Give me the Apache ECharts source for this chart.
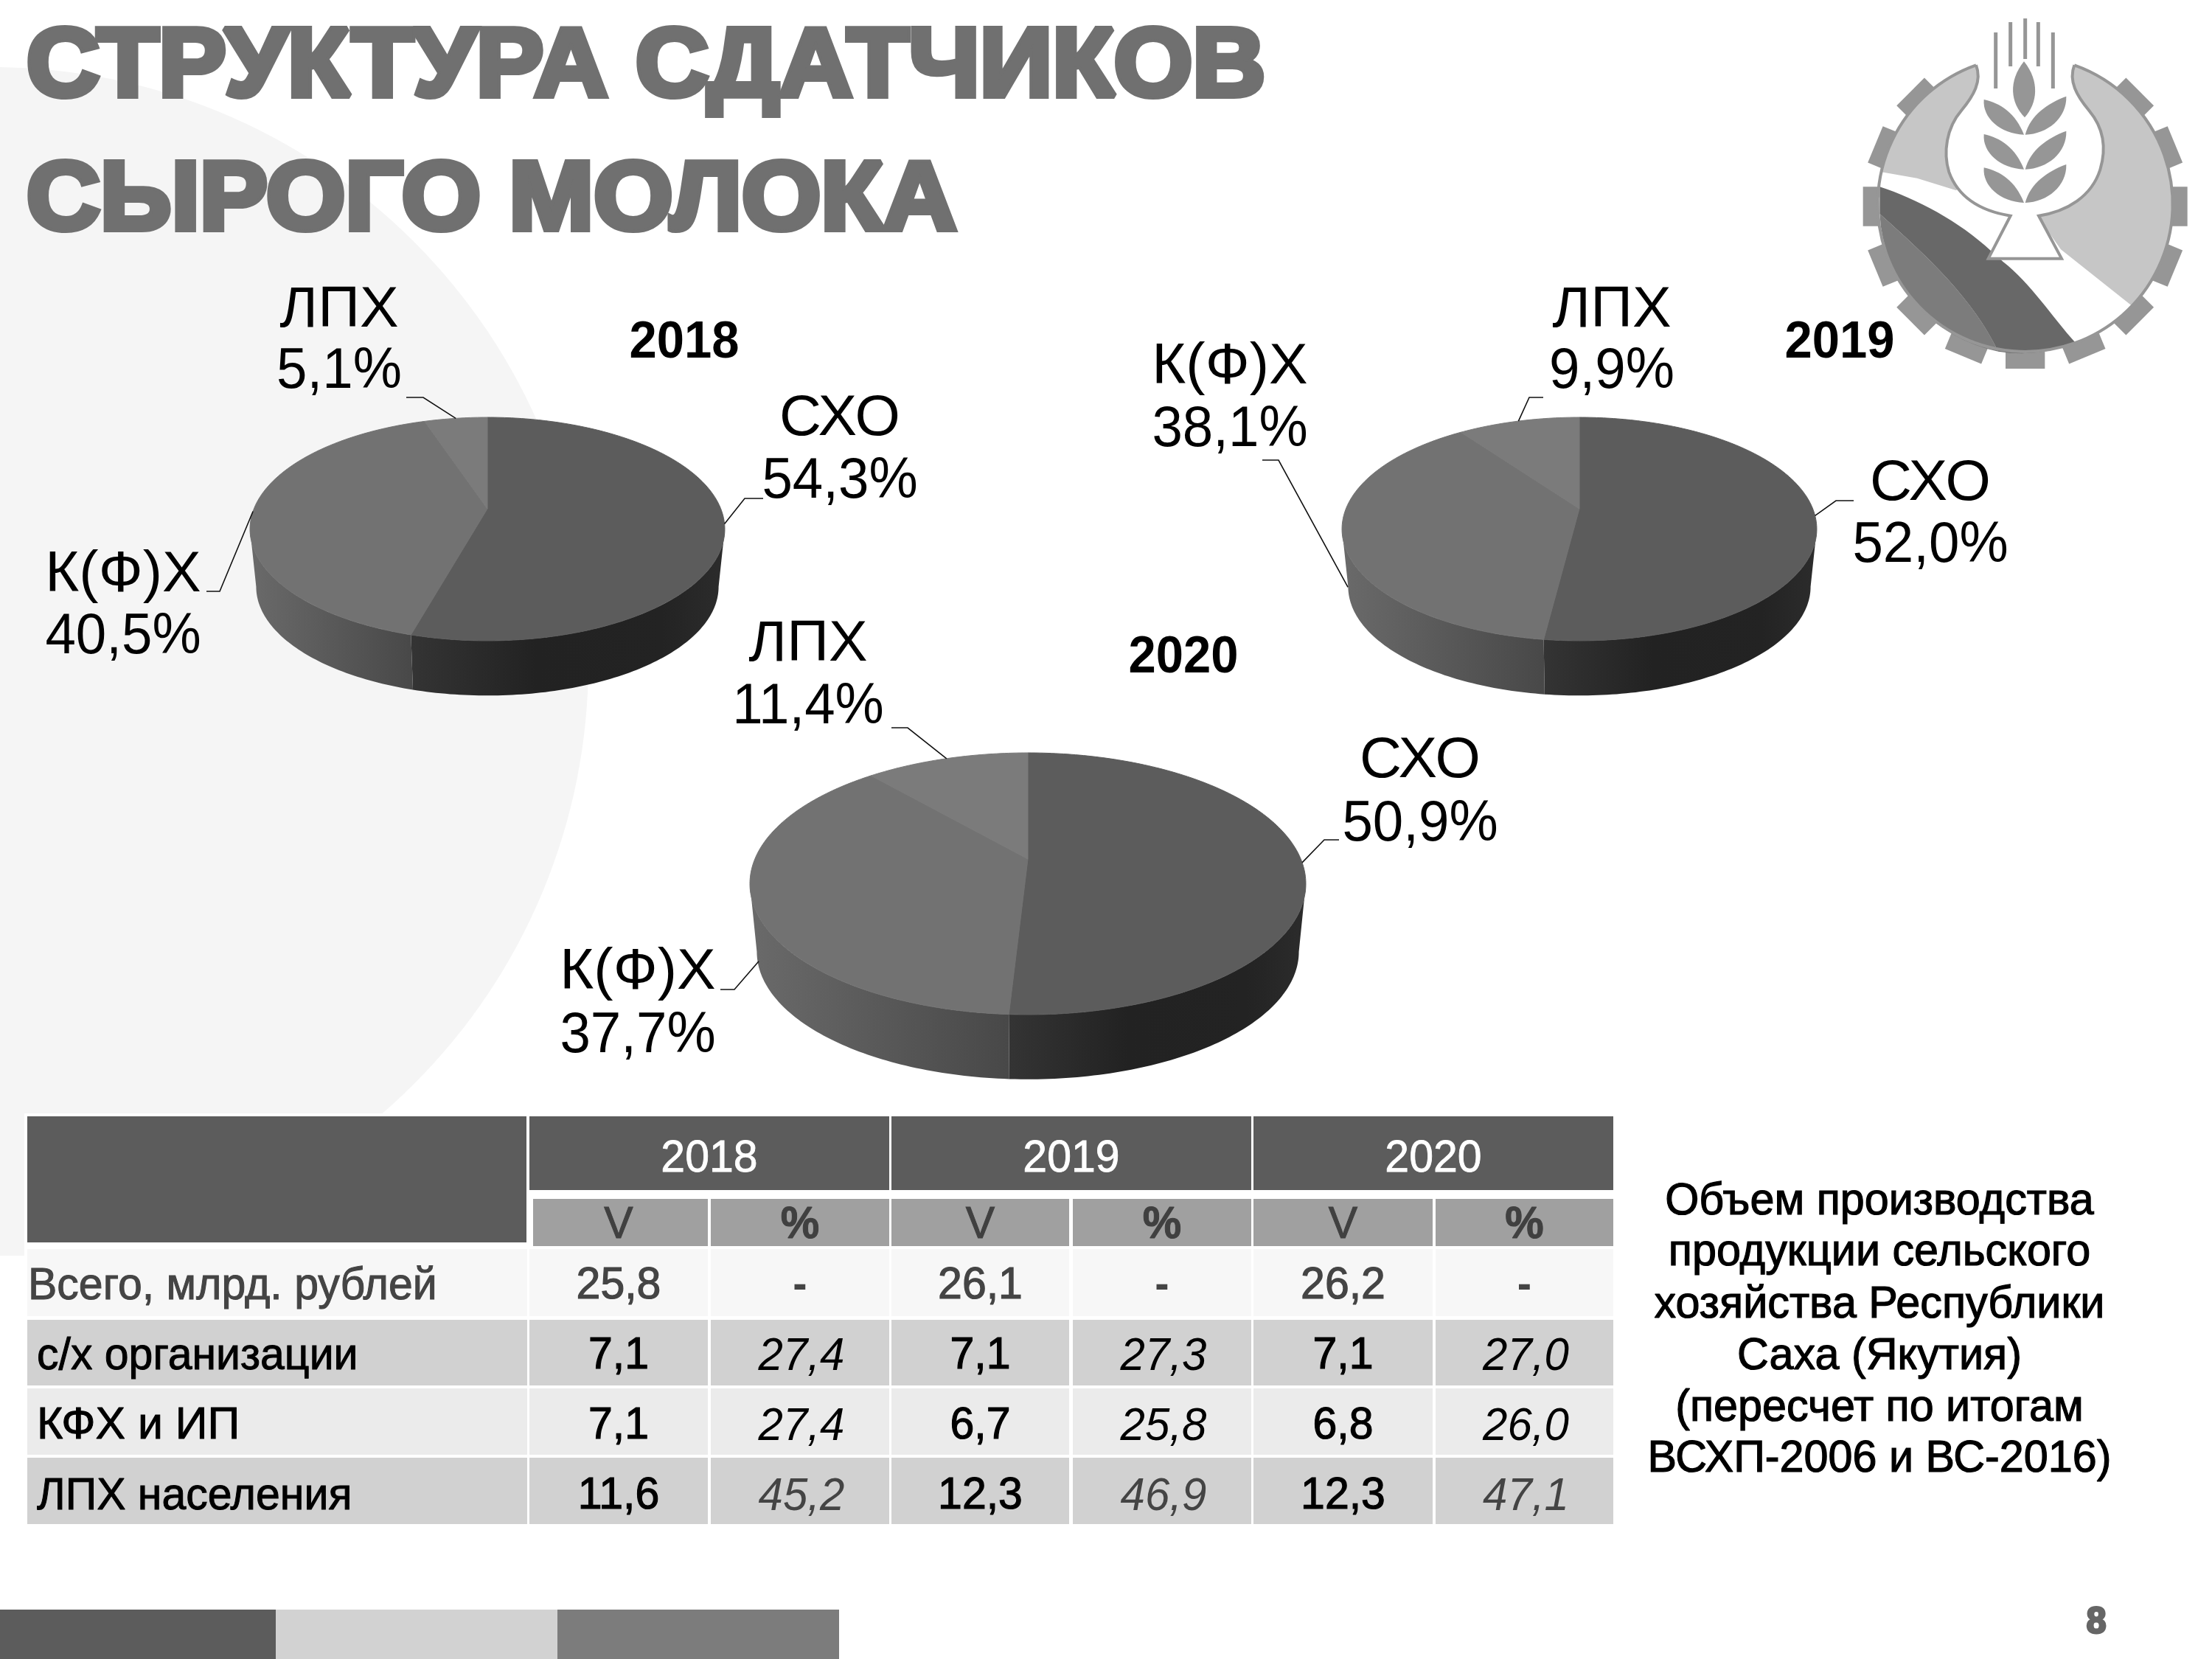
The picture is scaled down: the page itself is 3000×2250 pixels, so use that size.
<!DOCTYPE html>
<html lang="ru">
<head>
<meta charset="utf-8">
<title>Структура сдатчиков сырого молока</title>
<style>
  html, body { margin: 0; padding: 0; background: #fff; }
  #chart { width: 3000px; height: 2250px; }
</style>
<script src="https://cdn.jsdelivr.net/npm/echarts@6/dist/echarts.min.js"></script>
</head>
<body>
<div id="chart"></div>
<script>
// ---- Data ----
const titleLines = ['СТРУКТУРА СДАТЧИКОВ', 'СЫРОГО МОЛОКА'];
const sliceNames = ['СХО', 'К(Ф)Х', 'ЛПХ'];
const share2018 = [54.3, 40.5, 5.1];
const share2019 = [52.0, 38.1, 9.9];
const share2020 = [50.9, 37.7, 11.4];

const tableYears = ['2018', '2019', '2020'];
const subHeads = ['V', '%'];
const rowNames = ['Всего, млрд. рублей', 'с/х организации', 'КФХ и ИП', 'ЛПХ населения'];
const volume2018 = ['25,8', '7,1', '7,1', '11,6'];
const percent2018 = ['-', '27,4', '27,4', '45,2'];
const volume2019 = ['26,1', '7,1', '6,7', '12,3'];
const percent2019 = ['-', '27,3', '25,8', '46,9'];
const volume2020 = ['26,2', '7,1', '6,8', '12,3'];
const percent2020 = ['-', '27,0', '26,0', '47,1'];

const noteLines = [
  'Объем производства',
  'продукции сельского',
  'хозяйства Республики',
  'Саха (Якутия)',
  '(пересчет по итогам',
  'ВСХП-2006 и ВС-2016)'
];
const pageNumber = '8';

// ---- Layout of the three tilted pies ----
// A disc is projected with perspective: a is the horizontal half-size, b the vertical one,
// k the foreshortening; cy is where the disc centre lands, baseCy / baseScale describe the lower rim.
const pies = [
  { year: '2018', values: share2018, cx: 661, cy: 690, a: 316.6, b: 146.5, k: 0.1815, baseCy: 769, baseScale: 0.974,
    yearX: 928, yearBase: 485,
    labels: [
      { x: 1139, name: 590, value: 675, lineX: [1035, 1010], lineY: 676, depth: 0 },
      { x: 167, name: 802, value: 886, lineX: [280, 298], lineY: 802, depth: 0 },
      { x: 460, name: 443, value: 526, lineX: [551, 574], lineY: 539, depth: 0 }
    ] },
  { year: '2019', values: share2019, cx: 2142, cy: 690, a: 316.6, b: 146.5, k: 0.1815, baseCy: 769, baseScale: 0.974,
    yearX: 2495, yearBase: 485,
    labels: [
      { x: 2618, name: 678, value: 762, lineX: [2514, 2490], lineY: 679, depth: 0 },
      { x: 1668, name: 520, value: 605, lineX: [1712, 1734], lineY: 624, depth: 0.88 },
      { x: 2186, name: 443, value: 526, lineX: [2093, 2074], lineY: 539, depth: 0 }
    ] },
  { year: '2020', values: share2020, cx: 1394, cy: 1165, a: 370.2, b: 171.2, k: 0.1889, baseCy: 1258, baseScale: 0.975,
    yearX: 1605, yearBase: 912,
    labels: [
      { x: 1926, name: 1054, value: 1140, lineX: [1816, 1796], lineY: 1139, depth: 0 },
      { x: 865, name: 1341, value: 1427, lineX: [977, 996], lineY: 1342, depth: 0.87 },
      { x: 1096, name: 896, value: 981, lineX: [1209, 1231], lineY: 987, depth: 0 }
    ] }
];

const SANS = '"Liberation Sans", Arial, sans-serif';
const topColors = ['#5c5c5c', '#727272', '#7b7b7b'];
const wallStops = [
  [[0, '#343434'], [0.4, '#222222'], [0.8, '#232323'], [1, '#2c2c2c']],
  [[0, '#6a6a6a'], [1, '#484848']],
  [[0, '#666666'], [1, '#555555']]
];

const MID = 0.27;     // distance from baseline to the middle of the text line, in font sizes
const TALL = 1.04;    // Liberation capitals run a little short, so they are stretched upward
const CAPTION = 74.5;

function rimPoint(p, deg, onBase) {
  const t = deg * Math.PI / 180;
  const u = Math.sin(t), v = Math.cos(t), d = 1 + p.k * v;
  const s = onBase ? p.baseScale : 1;
  const y0 = onBase ? p.baseCy : p.cy;
  return [p.cx + s * p.a * u / d, y0 - s * p.b * v / d];
}

function arcPoints(p, from, to, onBase) {
  const n = Math.max(2, Math.ceil(Math.abs(to - from)));
  const pts = [];
  for (let i = 0; i <= n; i++) pts.push(rimPoint(p, from + (to - from) * i / n, onBase));
  return pts;
}

function pieSliceRenderer(pie) {
  const total = pie.values.reduce((s, x) => s + x, 0);
  return function (params, api) {
    const i = params.dataIndex;
    const before = pie.values.slice(0, i).reduce((s, x) => s + x, 0);
    const from = echarts.number.linearMap(before, [0, total], [0, 360]);
    const to = echarts.number.linearMap(before + api.value(0), [0, total], [0, 360]);
    const children = [];

    // Visible part of the side wall lies between the two silhouette angles.
    const edge = Math.acos(-pie.k) * 180 / Math.PI;
    const wFrom = Math.max(from, edge), wTo = Math.min(to, 360 - edge);
    if (wTo > wFrom) {
      const wall = arcPoints(pie, wFrom, wTo, false).concat(arcPoints(pie, wTo, wFrom, true));
      children.push({
        type: 'polygon', shape: { points: wall },
        style: {
          fill: new echarts.graphic.LinearGradient(0, 0, 1, 0,
            wallStops[i].map(s => ({ offset: s[0], color: s[1] })))
        }
      });
    }

    // Top face of the slice, apex at the projected disc centre.
    const face = [[pie.cx, pie.cy]].concat(arcPoints(pie, from, to, false));
    children.push({
      type: 'polygon', shape: { points: face },
      style: { fill: topColors[i], stroke: topColors[i], lineWidth: 1 }
    });

    // Leader line from the slice's mid angle to its caption.
    const lab = pie.labels[i];
    const mid = (from + to) / 2;
    const a0 = rimPoint(pie, mid, false), a1 = rimPoint(pie, mid, true);
    const anchor = [a0[0] + (a1[0] - a0[0]) * lab.depth, a0[1] + (a1[1] - a0[1]) * lab.depth];
    children.push({
      type: 'polyline',
      shape: { points: [[lab.lineX[0], lab.lineY], [lab.lineX[1], lab.lineY], anchor] },
      style: { stroke: '#111', lineWidth: 1.6, fill: null }
    });

    const percent = api.value(0).toFixed(1).replace('.', ',') + '%';
    [[sliceNames[i], lab.name, 1.06], [percent, lab.value, 1]].forEach(line => {
      children.push({
        type: 'text',
        x: lab.x, y: line[1] - CAPTION * MID * TALL, scaleX: line[2], scaleY: TALL,
        style: {
          text: line[0], x: 0, y: 0,
          fontFamily: SANS, fontSize: CAPTION, fill: '#000',
          align: 'center', verticalAlign: 'middle'
        }
      });
    });
    return { type: 'group', children: children };
  };
}

// ---- Emblem, drawn in a 1500-unit box and scaled down ----
function renderEmblem() {
  const c = [740, 840];
  const grey = '#969696';
  const kids = [];
  const path = (d, style) => kids.push({ type: 'path', shape: { pathData: d }, style: style });

  for (let n = -2; n <= 10; n++) {
    const t = n * 22.5 * Math.PI / 180;
    const ox = Math.cos(t), oy = Math.sin(t), nx = -oy, ny = ox, hw = 80, r0 = 590, r1 = 660;
    kids.push({
      type: 'polygon',
      shape: { points: [
        [c[0] + ox * r0 + nx * hw, c[1] + oy * r0 + ny * hw],
        [c[0] + ox * r1 + nx * hw, c[1] + oy * r1 + ny * hw],
        [c[0] + ox * r1 - nx * hw, c[1] + oy * r1 - ny * hw],
        [c[0] + ox * r0 - nx * hw, c[1] + oy * r0 - ny * hw]
      ] },
      style: { fill: grey }
    });
  }

  path('M540 265 A600 600 0 1 0 940 265 Z', { fill: '#ffffff' });
  path('M540 265 A600 600 0 0 0 155 700 L300 725 L460 775 L560 500 Z', { fill: '#c6c6c6' });
  path('M940 265 A600 600 0 0 1 1175 1245 L885 1015 L790 880 L900 500 Z', { fill: '#c6c6c6' });
  path('M148 870 C350 1050 530 1220 630 1430 A600 600 0 0 1 148 870 Z', { fill: '#7c7c7c' });
  path('M148 760 C300 810 470 900 600 1020 L650 1065 C760 1150 850 1290 945 1395 A600 600 0 0 1 630 1430 C530 1220 350 1050 148 870 Z', { fill: '#686868' });
  path('M540 265 A600 600 0 1 0 940 265', { fill: null, stroke: grey, lineWidth: 12 });
  path('M540 265 C565 330 530 390 480 450 C420 520 405 620 430 700 C470 810 570 860 680 878 L590 1052 L888 1052 L795 878 C910 860 1010 800 1045 690 C1075 590 1050 510 1000 450 C950 390 915 330 940 265 L740 200 Z',
       { fill: '#ffffff', stroke: null });
  path('M540 265 C565 330 530 390 480 450 C420 520 405 620 430 700 C470 810 570 860 680 878 L590 1052 L888 1052 L795 878 C910 860 1010 800 1045 690 C1075 590 1050 510 1000 450 C950 390 915 330 940 265',
       { fill: null, stroke: grey, lineWidth: 12 });

  [[620, 132, 360], [680, 90, 270], [740, 75, 240], [793, 90, 270], [853, 132, 360]].forEach(b => {
    kids.push({ type: 'line', shape: { x1: b[0], y1: b[1], x2: b[0], y2: b[2] }, style: { stroke: grey, lineWidth: 15 } });
  });
  path('M735 250 C800 330 790 420 738 478 C680 420 670 330 735 250 Z', { fill: '#969696' });
  [0, 141, 277].forEach(dy => {
    path(`M735 ${548 + dy} C700 ${460 + dy} 640 ${420 + dy} 572 ${405 + dy} C565 ${480 + dy} 640 ${545 + dy} 735 ${548 + dy} Z`, { fill: '#969696' });
    path(`M740 ${548 + dy} C760 ${470 + dy} 830 ${420 + dy} 907 ${392 + dy} C910 ${480 + dy} 830 ${545 + dy} 740 ${548 + dy} Z`, { fill: '#969696' });
  });
  return { type: 'group', x: 2500, y: 0, scaleX: 1 / 3, scaleY: 1 / 3, children: kids };
}

// ---- Static slide elements ----
const g = [];
function box(x0, y0, x1, y1, fill) {
  g.push({ type: 'rect', shape: { x: x0, y: y0, width: x1 - x0, height: y1 - y0 }, style: { fill: fill } });
}
function label(text, x, base, size, o) {
  o = o || {};
  const tall = o.scaleY || TALL;
  g.push({
    type: 'text', x: x, y: base - size * MID * tall, scaleX: o.scaleX || 1, scaleY: tall, z: o.z || 0,
    style: {
      text: text, x: 0, y: 0, fontFamily: SANS, fontSize: size,
      fontWeight: o.weight || 'normal', fontStyle: o.italic ? 'italic' : 'normal',
      fill: o.color || '#000', stroke: o.stroke || null, lineWidth: o.strokeWidth || 0,
      lineJoin: 'miter', align: o.align || 'center', verticalAlign: 'middle'
    }
  });
}

// Pale backdrop circle, cut off above the table
g.push({ type: 'circle', shape: { cx: -10, cy: 899, r: 808 }, style: { fill: '#f5f5f5' } });
box(33, 1510, 1000, 2250, '#ffffff');
box(0, 1703, 33, 2250, '#ffffff');

// Heading
const titleBases = [129, 310];
const titleStretch = [1.07, 1.078];
titleLines.forEach((t, i) => label(t, 36, titleBases[i], 128, {
  weight: 'bold', color: '#707070', stroke: '#707070', strokeWidth: 8, align: 'left',
  scaleX: titleStretch[i], scaleY: 1.03
}));

// Year captions
pies.forEach(p => label(p.year, p.yearX, p.yearBase, 67, { weight: 'bold', z: 5 }));

// Table: header blocks
const yearSpans = [[718, 1206], [1209, 1697], [1700, 2188]];
const subSpans = [[723, 960], [964, 1206], [1209, 1450], [1455, 1697], [1700, 1943], [1947, 2188]];
const cellSpans = [[718, 960], [964, 1206], [1209, 1450], [1455, 1697], [1700, 1943], [1947, 2188]];
const rowSpans = [[1694, 1785], [1790, 1879], [1883, 1973], [1977, 2067]];
const rowFills = ['#f7f7f7', '#d1d1d1', '#ebebeb', '#d1d1d1'];
const rowBases = [1761, 1856, 1951, 2046];
const nameX = [38, 50, 50, 50];
const nameBases = [1762, 1857, 1951, 2047];
const nameStretch = [1, 1, 1.03, 1];

box(37, 1514, 714, 1685, '#5c5c5c');
yearSpans.forEach((s, i) => {
  box(s[0], 1514, s[1], 1614, '#5c5c5c');
  label(tableYears[i], (s[0] + s[1]) / 2, 1589, 59, { color: '#fff', stroke: '#fff', strokeWidth: 0.8 });
});
subSpans.forEach((s, i) => {
  box(s[0], 1626, s[1], 1690, '#a0a0a0');
  const sub = subHeads[i % 2];
  label(sub, (cellSpans[i][0] + cellSpans[i][1]) / 2, 1679, 59,
    { color: '#404040', stroke: '#404040', strokeWidth: 1, weight: sub === '%' ? 'bold' : 'normal' });
});

// Table: body rows
const volumes = [volume2018, volume2019, volume2020];
const percents = [percent2018, percent2019, percent2020];
rowNames.forEach((name, r) => {
  box(37, rowSpans[r][0], 715, rowSpans[r][1], rowFills[r]);
  const nameColor = r === 0 ? '#444' : '#000';
  label(name, nameX[r], nameBases[r], 59, {
    align: 'left', color: nameColor, stroke: nameColor, strokeWidth: 1, scaleX: nameStretch[r]
  });
  cellSpans.forEach((s, c) => {
    box(s[0], rowSpans[r][0], s[1], rowSpans[r][1], rowFills[r]);
    const year = Math.floor(c / 2);
    const cx = (s[0] + s[1]) / 2;
    if (c % 2 === 0) {
      const col = r === 0 ? '#444' : '#000';
      label(volumes[year][r], cx, rowBases[r], 59, { color: col, stroke: col, strokeWidth: 1.2 });
    } else if (r === 0) {
      label(percents[year][r], cx, rowBases[r], 58, { color: '#444', weight: 'bold' });
    } else {
      label(percents[year][r], cx + 2, rowBases[r] + 1, 60, { italic: true, color: r === 3 ? '#444' : '#000' });
    }
  });
});

// Side note
const noteBases = [1647, 1716, 1787, 1857, 1927, 1996];
noteLines.forEach((t, i) => label(t, 2549, noteBases[i], 59.3, { stroke: '#000', strokeWidth: 1.2 }));

// Footer
box(0, 2183, 374, 2250, '#5c5c5c');
box(374, 2183, 756, 2250, '#d2d2d2');
box(756, 2183, 1138, 2250, '#7c7c7c');
label(pageNumber, 2843, 2215, 48, { weight: 'bold', color: '#666', stroke: '#666', strokeWidth: 3 });

// ---- Chart ----
const chart = echarts.init(document.getElementById('chart'), null, { renderer: 'canvas' });
chart.setOption({
  animation: false,
  backgroundColor: '#ffffff',
  graphic: { elements: g },
  series: [
    { type: 'custom', coordinateSystem: 'none', silent: true, z: 1, data: [[0]], renderItem: renderEmblem }
  ].concat(pies.map(p => ({
    type: 'custom', name: p.year, coordinateSystem: 'none', silent: true, z: 3,
    data: p.values.map(v => [v]),
    renderItem: pieSliceRenderer(p)
  })))
});
</script>
</body>
</html>
